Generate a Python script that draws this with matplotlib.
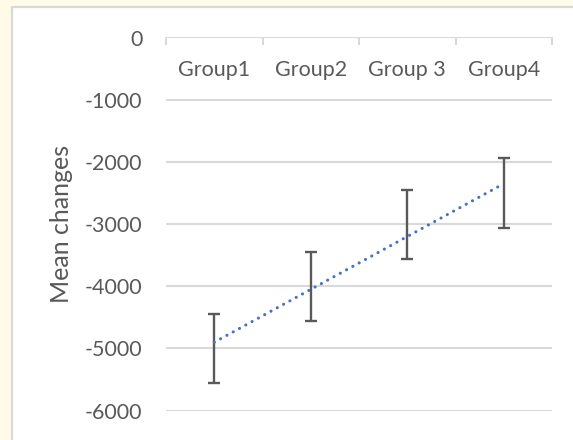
import numpy as np
import matplotlib
matplotlib.use("Agg")
import matplotlib.pyplot as plt
from matplotlib.patches import Rectangle

# Data
groups = ["Group1", "Group2", "Group 3", "Group4"]
mean_changes = [-5000, -4000, -3000, -2500]
errors = [550, 550, 555, 555]
y_ticks = [0, -1000, -2000, -3000, -4000, -5000, -6000]

TEXT = "#595959"
GRID = "#D9D9D9"
BAR_ERR = "#595959"
TREND = "#4472C4"

plt.rcParams["font.family"] = ["Lato", "DejaVu Sans"]

W, H = 573, 440
fig = plt.figure(figsize=(W / 100, H / 100), dpi=100, facecolor="#FFFBE8")

# chart area panel
fig.patches.append(Rectangle((11.5 / W, -0.1), 1.2, 1 - 7.5 / H + 0.1,
                             transform=fig.transFigure, facecolor="white",
                             edgecolor=GRID, linewidth=1.6, zorder=-10))

left, right = 166 / W, 552 / W
top, bottom = 1 - 37.5 / H, 1 - 410.7 / H
ax = fig.add_axes([left, bottom, right - left, top - bottom])
ax.set_facecolor("none")

x = np.arange(1, len(groups) + 1)
ax.set_xlim(0.5, len(groups) + 0.5)
ax.set_ylim(-6000, 0)

for s in ax.spines.values():
    s.set_visible(False)

# gridlines and category axis line at zero
for yv in y_ticks:
    ax.axhline(yv, color=GRID, linewidth=1.5, zorder=1)

ax.set_yticks(y_ticks)
ax.set_yticklabels([str(v) for v in y_ticks])
ax.tick_params(axis="y", length=0, pad=17, labelsize=15.5, labelcolor=TEXT)

# category boundary ticks hanging down from the axis line
ax.set_xticks([])
ax.set_xticks(np.arange(0.5, len(groups) + 1, 1.0), minor=True)
ax.xaxis.set_ticks_position("top")
ax.tick_params(axis="x", which="minor", direction="in", length=5.5,
               width=1.5, color=GRID, top=True, bottom=False)

for xi, g in zip(x, groups):
    ax.annotate(g, xy=(xi, 0), xytext=(0, -23.5), textcoords="offset points",
                ha="center", va="center", fontsize=15.5, color=TEXT)

# error bars around the mean values
ax.errorbar(x, mean_changes, yerr=errors, fmt="none", ecolor=BAR_ERR,
            elinewidth=1.7, capsize=4.5, capthick=1.7, zorder=3)

# linear trendline
coef = np.polyfit(x, mean_changes, 1)
xt = np.array([x[0], x[-1]])
ax.plot(xt, np.polyval(coef, xt), color=TREND, linewidth=2.2,
        linestyle=(0, (0.05, 2.3)), dash_capstyle="round", zorder=4)

ax.set_ylabel("Mean changes", fontsize=18, color=TEXT)
ax.yaxis.set_label_coords(-0.242, 0.5, transform=ax.transAxes)

fig.savefig("out.png", dpi=100, facecolor=fig.get_facecolor())
